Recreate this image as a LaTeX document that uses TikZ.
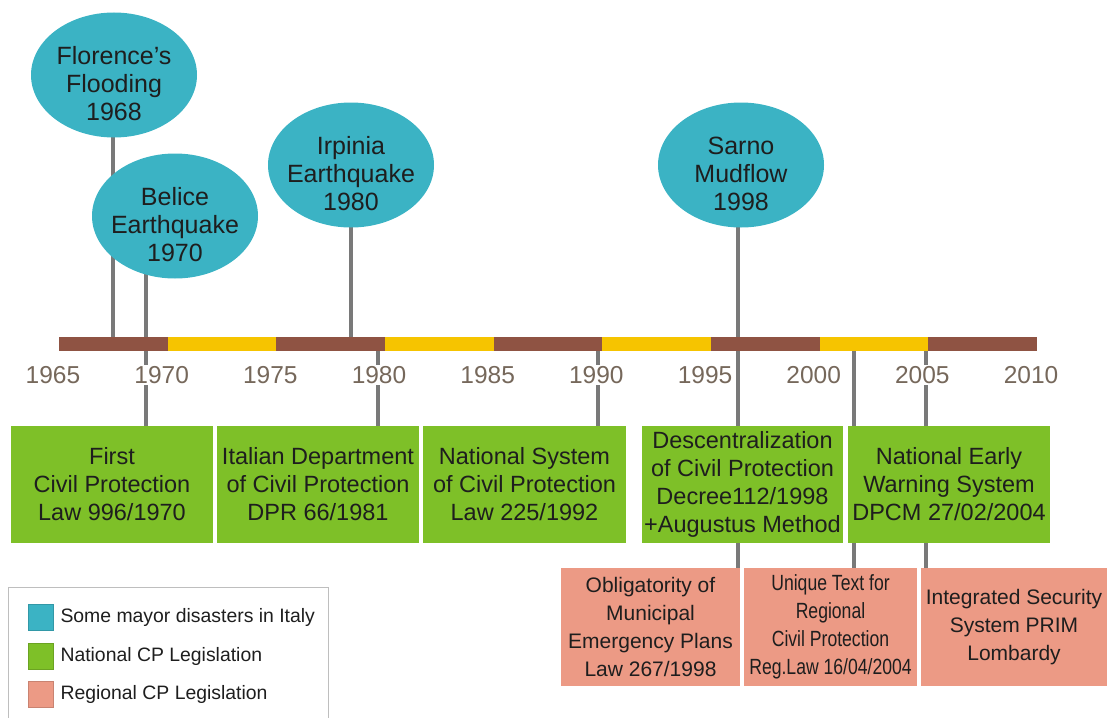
\documentclass[tikz,border=0pt]{standalone}
\usepackage{fontspec}
\setmainfont{Liberation Sans}
\newfontfamily\narrowsans[FakeStretch=0.8]{Liberation Sans}
\usetikzlibrary{shapes.geometric,positioning,backgrounds}
\definecolor{cpCyan}{RGB}{59,179,196}
\definecolor{cpGreen}{RGB}{126,192,40}
\definecolor{cpSalmon}{RGB}{236,154,133}
\definecolor{cpBrown}{RGB}{143,83,67}
\definecolor{cpYellow}{RGB}{246,196,0}
\definecolor{cpStick}{RGB}{121,121,121}
\definecolor{cpYear}{RGB}{118,104,91}
\definecolor{cpText}{RGB}{30,30,30}
\definecolor{cpFrame}{RGB}{190,190,190}

\begin{document}
\begin{tikzpicture}[x=1pt, y=-1pt,
    disaster/.style={ellipse, fill=cpCyan, minimum width=166pt, minimum height=125pt, inner sep=0pt, text depth=12pt, text=cpText, font=\fontsize{25}{28}\selectfont},
    natlaw/.style={rectangle, fill=cpGreen, minimum height=117pt, inner sep=0pt, align=center, text=cpText, font=\fontsize{23.5}{28}\selectfont},
    reglaw/.style={rectangle, fill=cpSalmon, minimum height=118pt, inner sep=0pt, align=center, text=cpText, font=\fontsize{21}{28}\selectfont},
    stick/.style={draw=cpStick, line width=4pt},
    yearlbl/.style={fill=white, inner sep=1pt, text=cpYear, font=\fontsize{24.5}{28}\selectfont},
    keybox/.style={minimum width=25pt, minimum height=26pt, inner sep=0pt, line width=0.6pt},
    keytxt/.style={inner sep=0pt, text=cpText, font=\fontsize{19.4}{22}\selectfont}]
    \useasboundingbox (0,0) rectangle (1107,717);

    % Timeline
    \node[fill=cpBrown, minimum width=978pt, minimum height=14pt, inner sep=0pt] (bar) at (548,344) {};
    \foreach \i in {1,3,5,7}
        \fill[cpYellow] ({59+108.667*\i},337) rectangle ++(108.667,14);
    \foreach \yr [count=\i from 0] in {1965,1970,...,2010}
        \node[yearlbl] (lbl\yr) at ({53+108.667*\i},375) {\yr};

    % Disasters
    \node[disaster] (flo) at (114,75) {\makebox[0pt]{\begin{tabular}{c}Florence’s\\Flooding\\1968\end{tabular}}};
    \node[disaster] (bel) at (175,216) {\makebox[0pt]{\begin{tabular}{c}Belice\\Earthquake\\1970\end{tabular}}};
    \node[disaster] (irp) at (351,165) {\makebox[0pt]{\begin{tabular}{c}Irpinia\\Earthquake\\1980\end{tabular}}};
    \node[disaster] (sar) at (741,165) {\makebox[0pt]{\begin{tabular}{c}Sarno\\Mudflow\\1998\end{tabular}}};

    % National laws
    \node[natlaw, minimum width=202pt] (law1) at (112,484.5) {First\\Civil Protection\\Law 996/1970};
    \node[natlaw, minimum width=202pt] (law2) at (318,484.5) {Italian Department\\of Civil Protection\\DPR 66/1981};
    \node[natlaw, minimum width=203pt] (law3) at (524.5,484.5) {National System\\of Civil Protection\\Law 225/1992};
    \node[natlaw, minimum width=201pt] (law4) at (742.5,484.5) {Descentralization\\of Civil Protection\\Decree112/1998\\+Augustus Method};
    \node[natlaw, minimum width=202pt] (law5) at (949,484.5) {National Early\\Warning System\\DPCM 27/02/2004};

    % Regional laws
    \node[reglaw, minimum width=179pt] (reg1) at (650.5,627) {Obligatority of\\Municipal\\Emergency Plans\\Law 267/1998};
    \node[reglaw, minimum width=173pt, font=\narrowsans\fontsize{22}{28}\selectfont] (reg2) at (830.5,627) {Unique Text for\\Regional\\Civil Protection\\Reg.Law 16/04/2004};
    \node[reglaw, minimum width=186pt] (reg3) at (1014,627) {Integrated Security\\System PRIM\\Lombardy};

    % Sticks
    \coordinate (tFlo) at (113,344);
    \coordinate (tBel) at (146,344);
    \coordinate (tIrp) at (351,344);
    \coordinate (tDpr) at (378,344);
    \coordinate (tNat) at (598,344);
    \coordinate (tSar) at (738,344);
    \coordinate (tEws) at (854,344);
    \coordinate (tPrim) at (926,344);
    \begin{scope}[on background layer]
        \draw[stick] (tFlo |- flo.center) -- (tFlo);
        \draw[stick] (tBel |- bel.center) -- (tBel |- law1.north);
        \draw[stick] (irp.center) -- (tIrp);
        \draw[stick] (tDpr) -- (tDpr |- law2.north);
        \draw[stick] (tNat) -- (tNat |- law3.north);
        \draw[stick] (tSar |- sar.center) -- (tSar |- reg1.north);
        \draw[stick] (tEws) -- (tEws |- reg2.north);
        \draw[stick] (tPrim) -- (tPrim |- reg3.north);
    \end{scope}

    % Legend
    \draw[cpFrame, line width=1pt] (8,587) rectangle (328,725);
    \node[keybox, fill=cpCyan, draw=cpCyan!85!black] (key1) at (40.5,617) {};
    \node[keybox, fill=cpGreen, draw=cpGreen!85!black] (key2) at (40.5,656) {};
    \node[keybox, fill=cpSalmon, draw=cpSalmon!85!black] (key3) at (40.5,694.5) {};
    \node[keytxt, right=7pt of key1] (txt1) {Some mayor disasters in Italy};
    \node[keytxt, right=7pt of key2] (txt2) {National CP Legislation};
    \node[keytxt, right=7pt of key3] (txt3) {Regional CP Legislation};
\end{tikzpicture}
\end{document}
